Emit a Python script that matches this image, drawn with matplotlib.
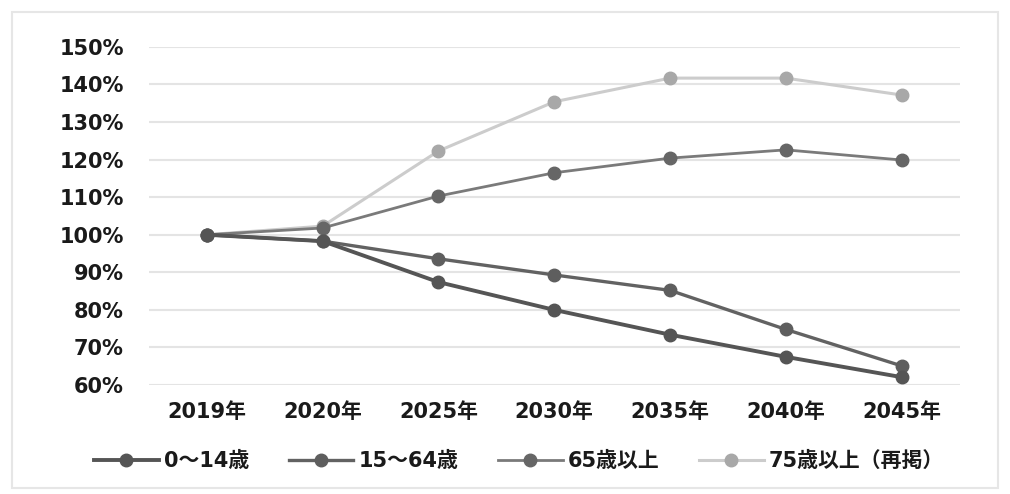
import matplotlib.pyplot as plt
from matplotlib.patches import Rectangle

years = ["2019年", "2020年", "2025年", "2030年", "2035年", "2040年", "2045年"]
age_0_14 = [100, 98.3, 87.4, 80.0, 73.4, 67.5, 62.1]
age_15_64 = [100, 98.3, 93.6, 89.3, 85.2, 74.8, 65.1]
age_65_over = [100, 101.8, 110.3, 116.5, 120.4, 122.6, 119.9]
age_75_over = [100, 102.3, 122.3, 135.4, 141.7, 141.7, 137.2]
labels = ["0～14歳", "15～64歳", "65歳以上", "75歳以上（再掲）"]
yticks = [60, 70, 80, 90, 100, 110, 120, 130, 140, 150]


def main() -> None:
    plt.rcParams["font.family"] = ["DejaVu Sans", "Noto Sans CJK JP"]
    fig = plt.figure(figsize=(10.1, 4.94), dpi=100)
    ax = fig.add_axes([0.1475, 0.2206, 0.8025, 0.6844])

    # outer frame of the original picture
    fig.patches.append(Rectangle((0.012, 0.012), 0.976, 0.964, transform=fig.transFigure,
                                 fill=False, edgecolor="#e6e6e6", linewidth=1.5))

    x = range(len(years))
    styles = [
        (age_0_14, "#555555", "#555555", 2.8),
        (age_15_64, "#626262", "#5e5e5e", 2.4),
        (age_65_over, "#7a7a7a", "#666666", 2.0),
        (age_75_over, "#cccccc", "#a8a8a8", 2.2),
    ]
    for (values, line_color, marker_color, lw), label in zip(styles[::-1], labels[::-1]):
        ax.plot(x, values, color=line_color, linewidth=lw, marker="o", markersize=9,
                markerfacecolor=marker_color, markeredgecolor=marker_color, label=label)

    ax.set_xlim(-0.5, len(years) - 0.5)
    ax.set_ylim(60, 150)
    ax.set_yticks(yticks)
    ax.set_yticklabels([f"{v}%" for v in yticks])
    ax.set_xticks(list(x))
    ax.set_xticklabels(years)
    ax.grid(axis="y", color="#e4e4e4", linewidth=1.5)
    ax.set_axisbelow(True)
    for spine in ax.spines.values():
        spine.set_visible(False)
    ax.tick_params(length=0, labelsize=15, pad=18, colors="#1a1a1a")
    ax.tick_params(axis="x", pad=12)
    for t in ax.get_xticklabels() + ax.get_yticklabels():
        t.set_fontweight("bold")

    handles, leg_labels = ax.get_legend_handles_labels()
    ax.legend(handles[::-1], leg_labels[::-1], loc="center", bbox_to_anchor=(0.514, 0.067),
              bbox_transform=fig.transFigure, ncol=4, frameon=False, handlelength=3.1,
              columnspacing=1.9, handletextpad=0.25, labelcolor="#1a1a1a",
              prop={"weight": "bold", "size": 15})

    fig.savefig("out.png", dpi=100)


if __name__ == "__main__":
    main()
